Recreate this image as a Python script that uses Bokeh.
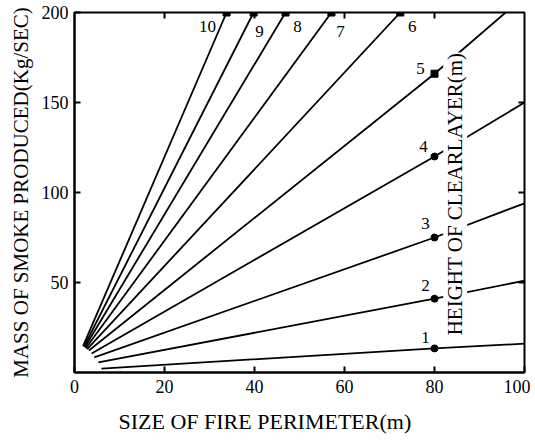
from bokeh.plotting import figure
from bokeh.models import Range1d, LinearAxis, Label, Title, FixedTicker, ColumnDataSource
from bokeh.embed import file_html
from bokeh.resources import INLINE
from bokeh.core.properties import value

# ---- data ----
heights = ["1", "2", "3", "4", "5", "6", "7", "8", "9", "10"]     # height of clear layer (m)
start_x = [6.0, 5.3, 4.4, 3.8, 3.2, 2.8, 2.5, 2.3, 2.1, 1.9]
start_y = [2.2, 5.6, 8.4, 10.6, 12.2, 13.0, 13.5, 14.0, 14.3, 14.6]
mark_x = [80, 80, 80, 80, 80, 72.4, 57.1, 46.9, 39.8, 33.8]
mark_y = [13.4, 41, 75, 120, 166, 200, 200, 200, 200, 200]
end_x = [100, 100, 100, 100, 95.8, 72.4, 57.1, 46.9, 39.8, 33.8]
end_y = [16, 51, 94, 150, 200, 200, 200, 200, 200, 200]
x_ticks = [0, 20, 40, 60, 80, 100]
y_ticks = [50, 100, 150, 200]
right_ticks = [50, 100, 150]
top_ticks = [20, 40, 60, 80]

# ---- styles ----
FONT = "Liberation Serif"
markers = ["circle"] * 4 + ["square"] * 6
lab_dx = [-9, -9, -9, -11, -14, 12, 9, 12, 6, -19]
lab_dy = [-11, -13, -14, -10, -5, 14, 19, 14, 19, 14]

p = figure(width=530, height=444, x_range=Range1d(0, 100), y_range=Range1d(0, 200),
           output_backend="svg", toolbar_location=None,
           min_border_left=74, min_border_right=6, min_border_top=12, min_border_bottom=0)
p.grid.visible = False
p.outline_line_color = "black"
p.outline_line_width = 2
p.background_fill_color = "white"
p.border_fill_color = "white"

for ax in (p.xaxis[0], p.yaxis[0]):
    ax.major_tick_in = 6
    ax.major_tick_out = 0
    ax.minor_tick_out = 0
    ax.minor_tick_in = 0
    ax.minor_tick_line_color = None
    ax.axis_line_color = "black"
    ax.axis_line_width = 2
    ax.major_tick_line_width = 2
    ax.major_label_text_font = FONT
    ax.major_label_text_font_size = "18px"
    ax.major_label_text_color = "black"

p.xaxis.ticker = FixedTicker(ticks=x_ticks)
p.yaxis.ticker = FixedTicker(ticks=y_ticks)
p.xaxis.major_label_standoff = 7
p.yaxis.major_label_standoff = 6

p.yaxis.axis_label = "MASS OF SMOKE PRODUCED(Kg/SEC)"
p.yaxis.axis_label_text_font = FONT
p.yaxis.axis_label_text_font_size = "21px"
p.yaxis.axis_label_text_font_style = "normal"
p.yaxis.axis_label_text_color = "black"
p.yaxis.axis_label_standoff = 6


def frame_axis(ticks):
    return LinearAxis(ticker=FixedTicker(ticks=ticks), major_label_text_font_size="0px",
                      major_label_overrides={t: "" for t in ticks},
                      major_tick_in=6, major_tick_out=0, minor_tick_in=0, minor_tick_out=0,
                      minor_tick_line_color=None, major_tick_line_width=2,
                      axis_line_color=None, major_label_standoff=0)


p.add_layout(frame_axis(right_ticks), "right")
p.add_layout(frame_axis(top_ticks), "above")

xs = [[sx, mx, ex] for sx, mx, ex in zip(start_x, mark_x, end_x)]
ys = [[sy, my, ey] for sy, my, ey in zip(start_y, mark_y, end_y)]
p.multi_line(xs, ys, line_color="black", line_width=1.8)

src = ColumnDataSource(dict(x=mark_x, y=mark_y, h=heights, m=markers, dx=lab_dx, dy=lab_dy))
p.scatter("x", "y", marker="m", size=7, color="black", source=src)
p.text("x", "y", text="h", x_offset="dx", y_offset="dy", source=src,
       text_font=value(FONT), text_font_size="17px", text_align="center",
       text_baseline="middle", text_color="black")

p.add_layout(Label(x=84.6, y=99.2, text="HEIGHT OF CLEARLAYER(m)", angle=90, angle_units="deg",
                   text_align="center", text_baseline="middle", text_font=FONT,
                   text_font_size="21px", text_color="black",
                   background_fill_color="white", background_fill_alpha=1.0))

p.add_layout(Title(text="SIZE OF FIRE PERIMETER(m)", align="left", offset=44,
                   text_font=FONT, text_font_size="22px", text_font_style="normal",
                   text_color="black", standoff=22), "below")

open("out.html", "w").write(file_html(p, INLINE))
